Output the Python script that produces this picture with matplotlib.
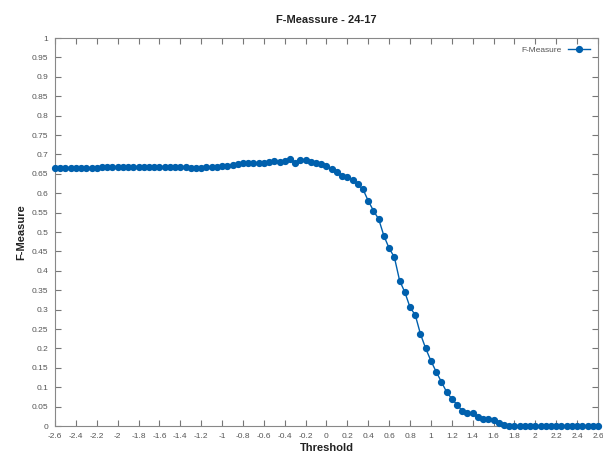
import matplotlib
matplotlib.use("Agg")
import matplotlib.pyplot as plt
import numpy as np

# ================================
# %% Data
# ++++++++++++++++++++++++++++++++

threshold = np.round(np.arange(-2.6, 2.6001, 0.05), 2)
f_measure = [
    0.666, 0.666, 0.666, 0.666, 0.666, 0.666, 0.666, 0.666, 0.666, 0.667,
    0.667, 0.668, 0.668, 0.668, 0.668, 0.668, 0.668, 0.668, 0.668, 0.668,
    0.668, 0.668, 0.668, 0.668, 0.668, 0.667, 0.666, 0.666, 0.666, 0.667,
    0.667, 0.668, 0.669, 0.671, 0.673, 0.675, 0.677, 0.678, 0.678, 0.679,
    0.678, 0.680, 0.682, 0.681, 0.683, 0.687, 0.679, 0.686, 0.686, 0.681,
    0.677, 0.674, 0.670, 0.662, 0.654, 0.644, 0.643, 0.634, 0.623, 0.610,
    0.580, 0.555, 0.533, 0.490, 0.458, 0.435, 0.375, 0.345, 0.306, 0.286,
    0.237, 0.200, 0.168, 0.140, 0.114, 0.088, 0.070, 0.055, 0.039, 0.033,
    0.034, 0.022, 0.018, 0.019, 0.015, 0.007, 0.002, 0.0, 0.0, 0.0,
    0.0, 0.0, 0.0, 0.0, 0.0, 0.0, 0.0, 0.0, 0.0, 0.0,
    0.0, 0.0, 0.0, 0.0, 0.0,
]

x_ticks = np.round(np.arange(-2.6, 2.6001, 0.2), 1)
y_ticks = np.round(np.arange(0, 1.0001, 0.05), 2)

# ================================
# %% Plot
# ++++++++++++++++++++++++++++++++

plt.rcParams["font.family"] = ["Liberation Sans", "DejaVu Sans"]

fig = plt.figure(figsize=(6.03, 4.53), dpi=100)
ax = fig.add_axes([0.0912, 0.0596, 0.9005, 0.8565])

ax.plot(threshold, f_measure, color="#0060ad", lw=1.0, marker="o", ms=4.2,
        label="F-Measure", clip_on=False, zorder=3)

ax.set_xlim(-2.6, 2.6)
ax.set_ylim(0, 1)
ax.set_xticks(x_ticks)
ax.set_yticks(y_ticks)
ax.set_xticklabels([f"{v:g}" for v in x_ticks])
ax.set_yticklabels([f"{v:g}" for v in y_ticks])
ax.tick_params(direction="in", length=4, width=0.8, color="#777777",
               labelsize=6, labelcolor="#555555", top=True, right=True, pad=5)
for sp in ax.spines.values():
    sp.set_color("#888888")
    sp.set_linewidth(0.8)

ax.set_title("F-Meassure - 24-17", fontsize=8, fontweight="bold", color="#222222", pad=11)
ax.set_xlabel("Threshold", fontsize=8, fontweight="bold", color="#222222", labelpad=2)
ax.set_ylabel("F-Measure", fontsize=8, fontweight="bold", color="#222222", labelpad=4)

leg = ax.legend(loc="upper right", frameon=False, markerfirst=False, fontsize=6,
                handlelength=2.6, borderaxespad=0.6)
for t in leg.get_texts():
    t.set_color("#555555")

fig.savefig("out.png", dpi=100)
